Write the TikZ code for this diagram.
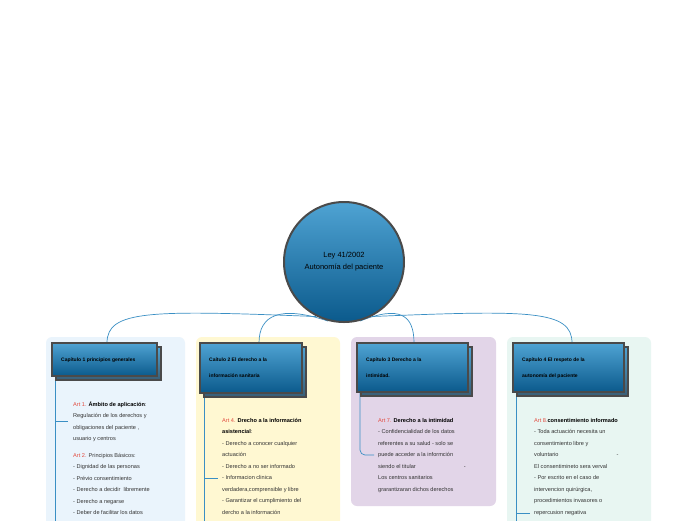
\documentclass[tikz,border=0pt]{standalone}
\usepackage{fontspec}
\setmainfont{Liberation Sans}
\definecolor{artred}{HTML}{E2483C}
\definecolor{line}{HTML}{3A8FC4}
\definecolor{pA}{HTML}{EAF4FC}
\definecolor{pB}{HTML}{FFF8D2}
\definecolor{pC}{HTML}{E2D5E8}
\definecolor{pD}{HTML}{E8F6F2}
\definecolor{bTop}{HTML}{4FA3D3}
\definecolor{bBot}{HTML}{0B5A8C}
\definecolor{edge}{HTML}{4A4A4A}
\tikzset{
 panel/.style={rounded corners=6pt,draw=none},
 hbox/.style={draw=edge,line width=1.3pt,top color=bTop,bottom color=bBot,minimum height=0},
 conn/.style={draw=line,line width=0.7pt},
 txt/.style={anchor=north west,align=left,font=\fontsize{5.6}{11.5}\selectfont,text=black!80,inner sep=0pt},
 htxt/.style={anchor=west,align=left,font=\fontsize{5}{16}\selectfont\bfseries,text=black,inner sep=0pt},
}
\begin{document}
\begin{tikzpicture}[x=1pt,y=-1pt]
\useasboundingbox (0,0) rectangle (696,520);
\clip (0,0) rectangle (696,520);
\fill[white] (0,0) rectangle (696,520);
% panels
\fill[panel,pA] (46,337) rectangle (185,540);
\fill[panel,pB] (196,337) rectangle (340,540);
\fill[panel,pC] (351,337) rectangle (496,506);
\fill[panel,pD] (507,337) rectangle (651,540);
% connectors from circle
\coordinate (c1) at (107,343);
\coordinate (c2) at (259,343);
\coordinate (c3) at (414,343);
\coordinate (c4) at (572,343);
\node[circle,minimum size=122pt,inner sep=0pt] (core) at (344,262) {};
\draw[conn] (core.243) .. controls (150,310) and (107,310) .. (c1);
\draw[conn] (core.255) .. controls (280,305) and (259,315) .. (c2);
\draw[conn] (core.285) .. controls (400,305) and (414,315) .. (c3);
\draw[conn] (core.297) .. controls (530,310) and (572,310) .. (c4);
\draw[edge,line width=2pt,top color=bTop,bottom color=bBot,shading angle=0] (core.center) circle (60);
\node[font=\fontsize{7.5}{12}\selectfont,align=center,text=black] (ct) at (344,262) {Ley 41/2002\\Autonomía del paciente};
% vertical lines
\draw[conn] (55,376) -- (55,525);
\draw[conn] (55,421) -- (68,421);
\draw[conn] (204,393) -- (204,525);
\draw[conn] (204,478) -- (218,478);
\draw[conn] (360,392) -- (360,450) arc[start angle=180,end angle=90,radius=5] -- (374,455);
\draw[conn] (516,392) -- (516,525);
\draw[conn] (516,513) -- (530,513);
% header boxes (shadow + front)
\foreach \a/\b/\c/\d in {52/343/157/376, 200/343/302/393, 357/343/468/392, 513/343/624/392}{
 \path[hbox,bottom color=bBot!60!black!80] (\a+4,\b+4) rectangle (\c+4,\d+4);
 \path[hbox] (\a,\b) rectangle (\c,\d);
}
\node[htxt] (h1) at (61,360) {Capítulo 1 principios generales};
\node[htxt] (h2) at (209,368) {Caítulo 2 El derecho a la\\información sanitaria};
\node[htxt] (h3) at (366,368) {Capítulo 3 Derecho a la\\intimidad.};
\node[htxt] (h4) at (522,368) {Capítulo 4 El respeto de la\\autonomía del paciente};
% texts
\node[txt] (t1) at (73,401) {\textcolor{artred}{Art 1.} \textcolor{black}{\bfseries Ámbito de aplicación}:\\
Regulación de los derechos y\\obligaciones del paciente ,\\usuario y centros\\[5pt]
\textcolor{artred}{Art 2.} Principios Básicos:\\- Dignidad de las personas\\- Prévio consentimiento\\- Derecho a decidir \ libremente\\- Derecho a negarse\\- Deber de facilitar los datos};
\node[txt] (t2) at (222,418) {\textcolor{artred}{Art 4.} \textcolor{black}{\bfseries Drecho a la información}\\\textcolor{black}{\bfseries asistencial}:\\- Derecho a conocer cualquier\\actuación\\- Derecho a no ser informado\\- Informacion clinica\\verdadera,comprensible y libre\\- Garantizar el cumplimiento del\\dercho a la información};
\node[txt] (t3) at (378,418) {\textcolor{artred}{Art 7.} \textcolor{black}{\bfseries Derecho a la intimidad}\\- Confidencialidad de los datos\\referentes a su salud - solo se\\puede acceder a la informción\\siendo el titular \hspace{45pt} -\\Los centros sanitarios\\grarantizaran dichos derechos};
\node[txt] (t4) at (534,418) {\textcolor{artred}{Art 8.}\textcolor{black}{\bfseries consentimiento informado}\\- Toda actuación necesita un\\consentimiento libre y\\voluntario \hspace{55pt} -\\El consentimineto sera verval\\- Por escrito en el caso de\\intervencion quirúrgica,\\procedimientos invasores o\\repercusion negativa};
\end{tikzpicture}
\end{document}
